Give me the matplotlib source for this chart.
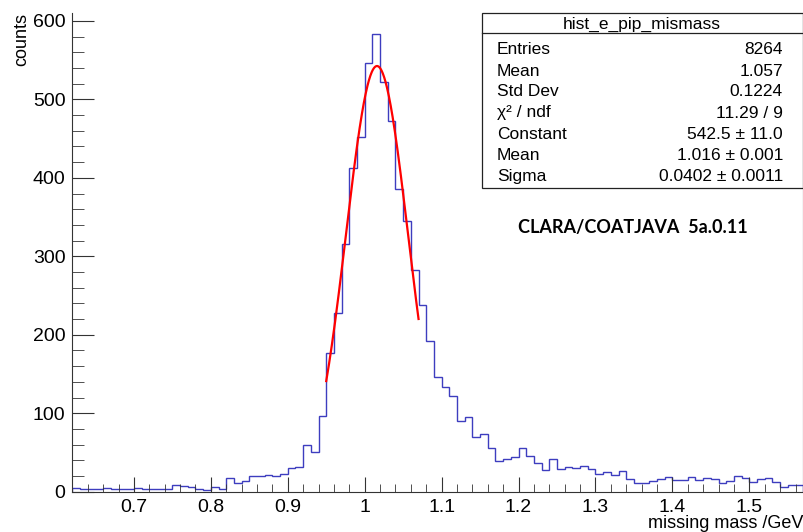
import numpy as np
import matplotlib
matplotlib.use("Agg")
import matplotlib.pyplot as plt
from matplotlib.patches import Rectangle
from matplotlib.lines import Line2D
from matplotlib.ticker import MultipleLocator, FuncFormatter

# ---------------------------------------------------------------------------
# Data (0.01 GeV bins from 0.62 to 1.57)
# ---------------------------------------------------------------------------
x_low = 0.62
bin_width = 0.01
counts = [
    5, 4, 3, 3, 5, 3, 4, 3, 5, 3,
    4, 4, 4, 9, 7, 6, 4, 2, 6, 4,
    17, 11, 14, 20, 20, 21, 20, 22, 30, 32,
    59, 51, 97, 177, 228, 316, 413, 452, 546, 583,
    522, 473, 386, 345, 282, 238, 192, 146, 134, 122,
    90, 95, 70, 73, 56, 39, 42, 44, 56, 46,
    37, 28, 42, 29, 31, 30, 33, 29, 23, 25,
    21, 26, 16, 11, 11, 14, 16, 19, 15, 15,
    19, 15, 17, 16, 11, 14, 20, 17, 12, 16,
    18, 12, 6, 9, 8,
]

# gaussian fit parameters (from the stats box)
fit_const = 542.5
fit_mean = 1.016
fit_sigma = 0.0402
fit_range = (0.95, 1.07)

stats_title = "hist_e_pip_mismass"
stats_names = ["Entries", "Mean", "Std Dev", "\u03c7\u00b2 / ndf", "Constant", "Mean", "Sigma"]
stats_values = ["8264", "1.057", "0.1224", "11.29 / 9", "542.5 \u00b1 11.0",
                "1.016 \u00b1 0.001", "0.0402 \u00b1 0.0011"]

plt.rcParams["font.family"] = ["Liberation Sans", "DejaVu Sans"]

fig = plt.figure(figsize=(8.04, 5.32), dpi=100)
ax = fig.add_axes([0.090, 0.0758, 0.909, 0.8997])

edges = x_low + bin_width * np.arange(len(counts) + 1)
ax.stairs(counts, edges, color="#3d3dbf", linewidth=1.0)

xf = np.linspace(fit_range[0], fit_range[1], 200)
yf = fit_const * np.exp(-0.5 * ((xf - fit_mean) / fit_sigma) ** 2)
ax.plot(xf, yf, color="red", linewidth=1.6)

ax.set_xlim(edges[0], edges[-1])
ax.set_ylim(0, 610)

ax.xaxis.set_major_locator(MultipleLocator(0.1))
ax.xaxis.set_minor_locator(MultipleLocator(0.02))
ax.yaxis.set_major_locator(MultipleLocator(100))
ax.yaxis.set_minor_locator(MultipleLocator(20))
ax.xaxis.set_major_formatter(FuncFormatter(lambda v, p: "%g" % round(v, 3)))
ax.tick_params(axis="both", which="both", direction="in", labelsize=14,
               top=False, right=False, color="#333333")
ax.tick_params(axis="x", which="major", length=11, pad=5)
ax.tick_params(axis="x", which="minor", length=5.5)
ax.tick_params(axis="y", which="major", length=16, pad=5)
ax.tick_params(axis="y", which="minor", length=8.5)
ax.spines["top"].set_visible(False)
for s in ("left", "bottom", "right"):
    ax.spines[s].set_color("#333333")
    ax.spines[s].set_linewidth(0.8)

fig.text(0.027, 0.975, "counts", rotation=90, ha="center", va="top", fontsize=13)
fig.text(0.999, 1 - 528 / 532, "missing mass /GeV", ha="right", va="baseline", fontsize=13)

fig.text(0.644, 0.572, "CLARA/COATJAVA  5a.0.11", ha="left", va="center",
         fontsize=13, fontweight="bold", family=["Lato", "DejaVu Sans"])

# stats box
bx0, bx1 = 0.599, 0.9985
by0, by1 = 0.6466, 0.975
fig.patches.append(Rectangle((bx0, by0), bx1 - bx0, by1 - by0, transform=fig.transFigure,
                             facecolor="white", edgecolor="#222222", linewidth=0.9, zorder=5))
fig.lines.append(Line2D([bx0, bx1], [0.9374, 0.9374], transform=fig.transFigure,
                        color="#222222", linewidth=0.9, zorder=6))
fig.text((bx0 + bx1) / 2, 1 - 24.5 / 532, stats_title, ha="center", va="center",
         fontsize=12.5, zorder=7)
row_y = [50, 71, 92, 113, 134.5, 156, 177]
for name, val, yp in zip(stats_names, stats_values, row_y):
    fig.text(497 / 804, 1 - yp / 532, name, ha="left", va="center", fontsize=12.5, zorder=7)
    fig.text(783 / 804, 1 - yp / 532, val, ha="right", va="center", fontsize=12.5, zorder=7)

fig.savefig("out.png", dpi=100)
